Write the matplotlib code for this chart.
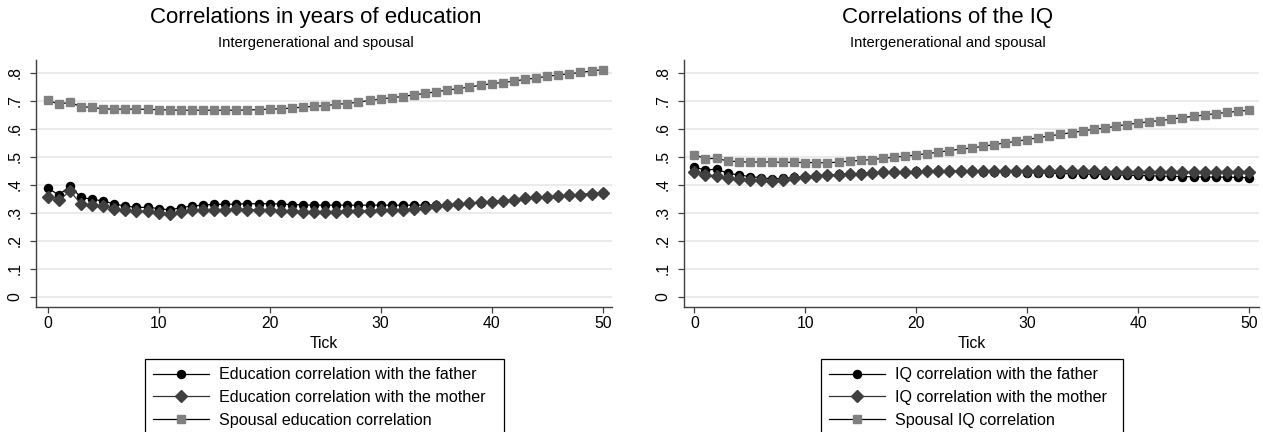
import matplotlib
matplotlib.use("Agg")
import matplotlib.pyplot as plt
import numpy as np

plt.rcParams['font.family'] = ['Liberation Sans', 'DejaVu Sans']

ticks = list(range(51))

edu_father = [.389, .363, .395, .355, .348, .342, .331, .324, .319, .319,
              .315, .310, .318, .324, .327, .330, .330, .331, .332, .332,
              .332, .331, .329, .328, .327, .327, .327, .327, .327, .327,
              .327, .327, .327, .327, .327, .328, .329, .330, .333, .336,
              .339, .343, .347, .351, .355, .357, .360, .362, .365, .368, .371]
edu_mother = [.356, .344, .377, .332, .327, .325, .315, .308, .306, .306,
              .300, .296, .304, .308, .310, .310, .311, .312, .311, .310,
              .308, .307, .305, .304, .304, .304, .304, .305, .306, .307,
              .308, .309, .311, .314, .318, .324, .328, .331, .334, .337,
              .340, .343, .347, .351, .355, .357, .360, .362, .365, .368, .371]
edu_spouse = [.702, .688, .694, .679, .676, .671, .670, .670, .670, .669,
              .668, .667, .666, .666, .666, .666, .666, .666, .667, .668,
              .670, .671, .674, .677, .680, .682, .687, .690, .695, .701,
              .706, .711, .715, .721, .726, .732, .738, .743, .749, .755,
              .761, .765, .770, .776, .781, .787, .792, .796, .801, .806, .811]

iq_father = [.463, .452, .456, .441, .435, .429, .425, .421, .423, .426,
             .429, .432, .434, .437, .439, .441, .443, .445, .446, .447,
             .448, .449, .449, .449, .449, .448, .447, .446, .445, .444,
             .443, .442, .441, .440, .439, .438, .437, .436, .435, .434,
             .433, .432, .431, .430, .429, .428, .428, .427, .427, .426, .425]
iq_mother = [.444, .435, .430, .424, .422, .418, .418, .412, .418, .424,
             .426, .430, .434, .436, .438, .440, .442, .444, .445, .446,
             .447, .448, .448, .449, .449, .450, .450, .450, .450, .450,
             .450, .449, .449, .449, .448, .448, .448, .447, .447, .447,
             .446, .446, .446, .446, .445, .445, .445, .445, .444, .444, .444]
iq_spouse = [.507, .493, .494, .485, .482, .481, .481, .481, .480, .480,
             .479, .479, .478, .481, .484, .487, .490, .494, .498, .502,
             .506, .511, .516, .522, .527, .531, .537, .543, .549, .555,
             .561, .568, .574, .580, .586, .592, .598, .602, .609, .615,
             .620, .625, .629, .634, .640, .644, .649, .654, .658, .662, .666]

ytick_vals = [0, .1, .2, .3, .4, .5, .6, .7, .8]
ytick_labels = ["0", ".1", ".2", ".3", ".4", ".5", ".6", ".7", ".8"]
xtick_vals = [0, 10, 20, 30, 40, 50]

titles = ["Correlations in years of education", "Correlations of the IQ"]
subtitle = "Intergenerational and spousal"
labels_edu = ["Education correlation with the father",
              "Education correlation with the mother",
              "Spousal education correlation"]
labels_iq = ["IQ correlation with the father",
             "IQ correlation with the mother",
             "Spousal IQ correlation"]

W, H = 1263, 432
fig = plt.figure(figsize=(W / 100, H / 100), dpi=100)

def px(x0, y0, x1, y1):
    return [x0 / W, 1 - y1 / H, (x1 - x0) / W, (y1 - y0) / H]

axes_px = [(36, 60, 612, 306.7), (684, 60, 1259, 306.7)]
xlims = [(-1.05, 50.84), (-0.93, 50.9)]
legend_px = [(145, 359, 504), (821, 359, 1123)]
title_x = [316, 948]

series = [(edu_father, edu_mother, edu_spouse, labels_edu),
          (iq_father, iq_mother, iq_spouse, labels_iq)]

spine_col = '#404040'
for i in range(2):
    ax = fig.add_axes(px(*axes_px[i]))
    f, m, s, labs = series[i]
    h1, = ax.plot(ticks, f, color='black', lw=0.9, marker='o', ms=5.8,
                  mfc='black', mec='black', label=labs[0], zorder=3)
    h2, = ax.plot(ticks, m, color='#333333', lw=0.9, marker='D', ms=5.9,
                  mfc='#404040', mec='#404040', label=labs[1], zorder=4)
    h3, = ax.plot(ticks, s, color='black', lw=0.9, marker='s', ms=5.8,
                  mfc='#808080', mec='#808080', label=labs[2], zorder=3)
    ax.set_xlim(*xlims[i])
    ax.set_ylim(-0.0357, 0.8454)
    ax.set_yticks(ytick_vals)
    ax.set_yticklabels(ytick_labels, rotation=90, va='center', fontsize=11.3)
    ax.set_xticks(xtick_vals)
    ax.set_xticklabels([str(v) for v in xtick_vals], fontsize=11.3)
    ax.grid(axis='y', color='#e9e9e9', lw=1.3, zorder=0)
    ax.set_axisbelow(True)
    for sp in ['top', 'right']:
        ax.spines[sp].set_visible(False)
    for sp in ['left', 'bottom']:
        ax.spines[sp].set_color(spine_col)
        ax.spines[sp].set_linewidth(1.0)
    ax.tick_params(axis='both', direction='out', length=4.5, width=0.9,
                   color=spine_col, labelcolor='black')
    ax.tick_params(axis='x', pad=2.5)
    ax.tick_params(axis='y', pad=5)
    ax.set_xlabel("Tick", fontsize=11.3, labelpad=3)
    lx0, ly0, lx1 = legend_px[i]
    leg = ax.legend(handles=[h1, h2, h3], loc='upper left',
                    bbox_to_anchor=(lx0 / W, 1 - ly0 / H - 0.4, (lx1 - lx0) / W, 0.4),
                    bbox_transform=fig.transFigure, mode='expand',
                    fontsize=11.6, frameon=True, fancybox=False,
                    edgecolor='black', framealpha=1, borderpad=0.52,
                    handlelength=3.45, handletextpad=0.6, labelspacing=0.47,
                    borderaxespad=0)
    leg.get_frame().set_linewidth(0.9)
    fig.text(title_x[i] / W, 1 - 17.5 / H, titles[i], ha='center', va='center',
             fontsize=16)
    fig.text(title_x[i] / W, 1 - 43.5 / H, subtitle, ha='center', va='center',
             fontsize=10.6)

fig.savefig("out.png", dpi=100)
